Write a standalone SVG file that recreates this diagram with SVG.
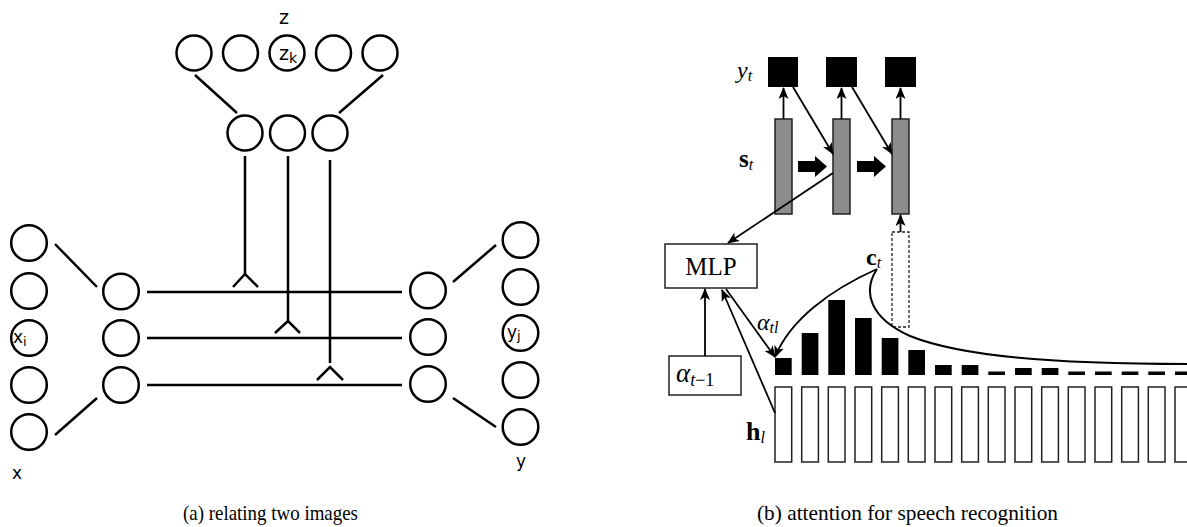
<svg xmlns="http://www.w3.org/2000/svg" width="1187" height="527" viewBox="0 0 1187 527">
  <style>
    .unit { fill: #fff; stroke: #000; stroke-width: 2.5; }
    .wire { stroke: #000; stroke-width: 2.5; fill: none; stroke-linecap: butt; }
    .sans { font-family: "DejaVu Sans", "Liberation Sans", sans-serif; fill: #000; }
    .math { font-family: "Liberation Serif", "DejaVu Serif", serif; fill: #000; }
    .cap  { font-family: "Liberation Serif", "DejaVu Serif", serif; font-size: 22px; fill: #000; }
    .edge { stroke: #000; stroke-width: 1.8; fill: none; marker-end: url(#tip); }
    .state { fill: #8c8c8c; stroke: #222; stroke-width: 1.5; }
    .out { fill: #000; }
    .enc { fill: #fff; stroke: #222; stroke-width: 1.5; }
    .att { fill: #000; }
    .box { fill: #fff; stroke: #222; stroke-width: 1.5; }
  </style>
  <defs>
    <marker id="tip" viewBox="0 0 12 10" markerWidth="12" markerHeight="10" refX="11" refY="5" orient="auto" markerUnits="userSpaceOnUse">
      <path d="M0,0 L12,5 L0,10 L3,5 z" fill="#000"/>
    </marker>
  </defs>

  <rect width="1187" height="527" fill="#fff"/>

  <!-- ===== (a) relating two images ===== -->
  <g id="panel-a">
    <g id="a-connectors">
      <!-- top layer to factor units -->
      <line class="wire" x1="195" y1="75" x2="237" y2="113"/>
      <line class="wire" x1="383" y1="75" x2="339" y2="113"/>
      <!-- input/output fans -->
      <line class="wire" x1="55" y1="244" x2="97" y2="287"/>
      <line class="wire" x1="55" y1="435" x2="97" y2="398"/>
      <line class="wire" x1="453" y1="282" x2="496" y2="245"/>
      <line class="wire" x1="453" y1="398" x2="496" y2="427"/>
      <!-- horizontal factor lines -->
      <line class="wire" x1="147" y1="292" x2="402" y2="292"/>
      <line class="wire" x1="147" y1="338" x2="402" y2="338"/>
      <line class="wire" x1="147" y1="385" x2="402" y2="385"/>
      <!-- vertical multiplicative links -->
      <line class="wire" x1="245" y1="156" x2="245" y2="274"/>
      <polyline class="wire" points="233,287 245,274 258,287"/>
      <line class="wire" x1="288" y1="156" x2="288" y2="321"/>
      <polyline class="wire" points="275,333 288,321 300,333"/>
      <line class="wire" x1="330" y1="160" x2="330" y2="363"/>
      <polyline class="wire" points="317,380 330,367 343,380"/>
    </g>

    <g id="z-layer">
      <circle class="unit" cx="194" cy="53" r="17.5"/>
      <circle class="unit" cx="240.5" cy="53" r="17.5"/>
      <circle class="unit" cx="287" cy="53" r="17.5"/>
      <circle class="unit" cx="333.5" cy="53" r="17.5"/>
      <circle class="unit" cx="380" cy="53" r="17.5"/>
      <text class="sans" x="284" y="24" font-size="19" text-anchor="middle">z</text>
      <text class="sans" x="279" y="60" font-size="19">z<tspan font-size="14" dy="3">k</tspan></text>
    </g>

    <g id="factor-top">
      <circle class="unit" cx="245" cy="133" r="17.5"/>
      <circle class="unit" cx="287.5" cy="133" r="17.5"/>
      <circle class="unit" cx="330" cy="133" r="17.5"/>
    </g>

    <g id="x-layer">
      <circle class="unit" cx="29" cy="243" r="17.8"/>
      <circle class="unit" cx="29" cy="291" r="17.8"/>
      <circle class="unit" cx="29" cy="338" r="17.8"/>
      <circle class="unit" cx="29" cy="385" r="17.8"/>
      <circle class="unit" cx="29" cy="432" r="17.8"/>
      <text class="sans" x="13" y="343" font-size="17">x<tspan font-size="13" dy="3">i</tspan></text>
      <text class="sans" x="12" y="479" font-size="17">x</text>
    </g>

    <g id="factor-left">
      <circle class="unit" cx="121" cy="291.5" r="17.8"/>
      <circle class="unit" cx="121" cy="338" r="17.8"/>
      <circle class="unit" cx="121" cy="385" r="17.8"/>
    </g>

    <g id="factor-right">
      <circle class="unit" cx="428" cy="290.5" r="17.8"/>
      <circle class="unit" cx="428" cy="337" r="17.8"/>
      <circle class="unit" cx="428" cy="384" r="17.8"/>
    </g>

    <g id="y-layer">
      <circle class="unit" cx="520.5" cy="240" r="17.8"/>
      <circle class="unit" cx="520.5" cy="287" r="17.8"/>
      <circle class="unit" cx="520.5" cy="333" r="17.8"/>
      <circle class="unit" cx="520.5" cy="380" r="17.8"/>
      <circle class="unit" cx="520.5" cy="427" r="17.8"/>
      <text class="sans" x="507" y="338" font-size="17">y<tspan font-size="13" dy="2">j</tspan></text>
      <text class="sans" x="516" y="467" font-size="17">y</text>
    </g>
  </g>

  <!-- ===== (b) attention for speech recognition ===== -->
  <g id="panel-b">
    <g id="outputs">
      <rect class="out" x="768" y="57" width="30" height="30"/>
      <rect class="out" x="826" y="57" width="31" height="30"/>
      <rect class="out" x="885" y="57" width="31" height="30"/>
      <text class="math" x="737" y="78" font-size="24" font-style="italic">y<tspan font-size="16" dy="3">t</tspan></text>
    </g>

    <g id="states">
      <rect class="state" x="775" y="119" width="17" height="95"/>
      <rect class="state" x="833" y="119" width="17" height="95"/>
      <rect class="state" x="892" y="119" width="17" height="95"/>
      <text class="math" x="739" y="167" font-size="25" font-weight="bold">s<tspan font-size="16" font-weight="normal" font-style="italic" dy="3">t</tspan></text>
    </g>

    <g id="context">
      <rect x="892" y="232" width="17" height="95" fill="#fff" stroke="#222" stroke-width="1.3" stroke-dasharray="3,2"/>
      <text class="math" x="866" y="265" font-size="24" font-weight="bold">c<tspan font-size="16" font-weight="normal" font-style="italic" dy="3">t</tspan></text>
    </g>

    <g id="mlp">
      <rect class="box" x="665" y="244" width="92" height="44"/>
      <text class="math" x="711" y="275" font-size="25" text-anchor="middle">MLP</text>
    </g>

    <g id="alpha-prev">
      <rect class="box" x="669" y="356" width="72" height="39"/>
      <text class="math" x="676" y="382" font-size="27" font-style="italic">α<tspan font-size="18" dy="4">t</tspan><tspan font-size="18" font-style="normal">−1</tspan></text>
    </g>

    <g id="weights">
      <rect class="att" x="775" y="358" width="16.7" height="17"/>
      <rect class="att" x="801.7" y="333" width="16.7" height="42"/>
      <rect class="att" x="828.3" y="300" width="16.7" height="75"/>
      <rect class="att" x="855" y="318" width="16.7" height="57"/>
      <rect class="att" x="881.7" y="338" width="16.7" height="37"/>
      <rect class="att" x="908.3" y="350" width="16.7" height="25"/>
      <rect class="att" x="935" y="365" width="16.7" height="10"/>
      <rect class="att" x="961.7" y="365" width="16.7" height="10"/>
      <rect class="att" x="988.3" y="371.5" width="16.7" height="3.5"/>
      <rect class="att" x="1015" y="368" width="16.7" height="7"/>
      <rect class="att" x="1041.7" y="368" width="16.7" height="7"/>
      <rect class="att" x="1068.3" y="371.5" width="16.7" height="3.5"/>
      <rect class="att" x="1095" y="371.5" width="16.7" height="3.5"/>
      <rect class="att" x="1121.7" y="371.5" width="16.7" height="3.5"/>
      <rect class="att" x="1148.3" y="371.5" width="16.7" height="3.5"/>
      <rect class="att" x="1175" y="371.5" width="16.7" height="3.5"/>
      <text class="math" x="757" y="330" font-size="24" font-style="italic">α<tspan font-size="16" dy="3">tl</tspan></text>
    </g>

    <g id="encoder">
      <rect class="enc" x="775" y="387" width="16.7" height="75"/>
      <rect class="enc" x="801.7" y="387" width="16.7" height="75"/>
      <rect class="enc" x="828.3" y="387" width="16.7" height="75"/>
      <rect class="enc" x="855" y="387" width="16.7" height="75"/>
      <rect class="enc" x="881.7" y="387" width="16.7" height="75"/>
      <rect class="enc" x="908.3" y="387" width="16.7" height="75"/>
      <rect class="enc" x="935" y="387" width="16.7" height="75"/>
      <rect class="enc" x="961.7" y="387" width="16.7" height="75"/>
      <rect class="enc" x="988.3" y="387" width="16.7" height="75"/>
      <rect class="enc" x="1015" y="387" width="16.7" height="75"/>
      <rect class="enc" x="1041.7" y="387" width="16.7" height="75"/>
      <rect class="enc" x="1068.3" y="387" width="16.7" height="75"/>
      <rect class="enc" x="1095" y="387" width="16.7" height="75"/>
      <rect class="enc" x="1121.7" y="387" width="16.7" height="75"/>
      <rect class="enc" x="1148.3" y="387" width="16.7" height="75"/>
      <rect class="enc" x="1175" y="387" width="16.7" height="75"/>
      <text class="math" x="746" y="440" font-size="26" font-weight="bold">h<tspan font-size="16" font-weight="normal" font-style="italic" dy="3">l</tspan></text>
    </g>

    <g id="b-connectors">
      <!-- state to output -->
      <line class="edge" x1="783.5" y1="119" x2="783.5" y2="88"/>
      <line class="edge" x1="841.5" y1="119" x2="841.5" y2="88"/>
      <line class="edge" x1="900.5" y1="119" x2="900.5" y2="88"/>
      <!-- output fed back to next state -->
      <line class="edge" x1="793" y1="87" x2="833" y2="154"/>
      <line class="edge" x1="852" y1="87" x2="892" y2="154"/>
      <!-- recurrence -->
      <polygon points="798,161 815,161 815,156 827,166.5 815,177 815,172 798,172" fill="#000"/>
      <polygon points="857,161 874,161 874,156 886,166.5 874,177 874,172 857,172" fill="#000"/>
      <!-- context into state -->
      <line class="edge" x1="900.5" y1="232" x2="900.5" y2="215"/>
      <!-- state into MLP -->
      <line class="edge" x1="833" y1="173" x2="728" y2="243"/>
      <!-- previous weights into MLP -->
      <line class="edge" x1="705" y1="356" x2="705" y2="289"/>
      <!-- encoder into MLP -->
      <line class="edge" x1="775" y1="413" x2="722" y2="290"/>
      <!-- MLP to weight -->
      <line class="edge" x1="726" y1="289" x2="775" y2="357"/>
      <!-- weighted sum forming c_t -->
      <path class="edge" d="M877,269 C830,290 790,320 775,357"/>
      <path class="wire" style="stroke-width:2" d="M877,269 C862,292 870,318 910,336 C960,356 1050,364 1190,364"/>
    </g>
  </g>

  <!-- captions -->
  <text class="cap" x="183" y="520" textLength="175" lengthAdjust="spacingAndGlyphs">(a) relating two images</text>
  <text class="cap" x="757" y="520" textLength="301" lengthAdjust="spacingAndGlyphs">(b) attention for speech recognition</text>
</svg>
